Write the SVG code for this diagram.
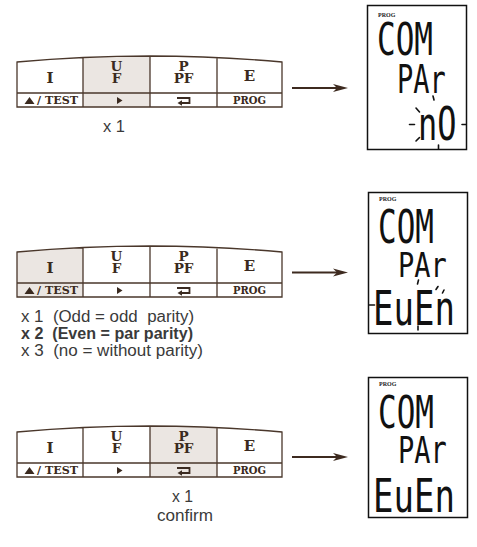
<svg xmlns="http://www.w3.org/2000/svg" width="477" height="547" viewBox="0 0 477 547">
<style>
.kl{fill:none;stroke:#4a372b;stroke-width:1.3}
.hl{fill:#ebe6e2}
.kt{font-family:"DejaVu Serif","Liberation Serif",serif;font-weight:bold;fill:#3a2a20;text-anchor:middle}
.ks{font-family:"DejaVu Serif","Liberation Serif",serif;font-weight:bold;fill:#3a2a20}
.ki{fill:#3a2a20}
.cap{font-family:"Liberation Sans",Arial,sans-serif;font-size:16px;fill:#3a3a3a}
.disp{fill:#fff;stroke:#111;stroke-width:1.5}
.seg{font-family:"DejaVu Sans Mono",monospace;fill:#111}
.prog{font-family:"Liberation Serif",serif;font-weight:bold;font-size:6px;fill:#222}
.blink{fill:none;stroke:#111;stroke-width:1.6;stroke-linecap:round}
.arr{stroke:#3d2a1f;stroke-width:2.2;marker-end:url(#ah)}
</style>
<defs>
<marker id="ah" markerUnits="userSpaceOnUse" markerWidth="16" markerHeight="10" refX="5" refY="5" orient="auto" overflow="visible"><path d="M0,1 L15,5 L0,9 L4,5 Z" fill="#3d2a1f"/></marker>
<g id="kp">
 <path class="kl" d="M17,62 Q150,50 282,62 L282,107 L17,107 Z M17,93 H282 M83,57.5 V107 M150,56 V107 M217,57.5 V107"/>
 <text class="kt" x="50" y="83" font-size="15">I</text>
 <text class="kt" x="116.5" y="71.3" font-size="13.5">U</text>
 <text class="kt" x="116.5" y="83" font-size="13.5">F</text>
 <text class="kt" x="183.5" y="70.5" font-size="13.5">P</text>
 <text class="kt" x="183.5" y="83.3" font-size="13.5">PF</text>
 <text class="kt" x="249.5" y="81.3" font-size="15">E</text>
 <polygon class="ki" points="24.5,104 29.5,97 34.5,104"/>
 <text class="ks" x="37" y="104.3" font-size="10.5" textLength="41" lengthAdjust="spacingAndGlyphs">/ TEST</text>
 <polygon class="ki" points="117,97 122.5,100.5 117,104"/>
 <path d="M177,98 H189.5 V103 H181" fill="none" stroke="#3a2a20" stroke-width="1.8"/>
 <polygon class="ki" points="177.5,103 182,100.3 182,105.7"/>
 <text class="kt" x="249.5" y="104.3" font-size="10.5" textLength="33" lengthAdjust="spacingAndGlyphs">PROG</text>
</g>
</defs>

<g id="keypad1">
 <polygon class="hl" points="83,57.5 150,56 150,107 83,107"/>
 <use href="#kp"/>
 <text class="cap" x="103" y="132" textLength="22" lengthAdjust="spacingAndGlyphs">x 1</text>
</g>

<g id="keypad2">
 <polygon class="hl" points="17,252 83,247.5 83,297 17,297"/>
 <use href="#kp" transform="translate(0,190)"/>
 <text class="cap" x="21" y="321.5" xml:space="preserve" textLength="173" lengthAdjust="spacingAndGlyphs">x 1  (Odd = odd  parity)</text>
 <text class="cap" x="21" y="338.5" font-weight="bold" xml:space="preserve" textLength="172" lengthAdjust="spacingAndGlyphs">x 2  (Even = par parity)</text>
 <text class="cap" x="21" y="356" xml:space="preserve" textLength="182" lengthAdjust="spacingAndGlyphs">x 3  (no = without parity)</text>
</g>

<g id="keypad3">
 <polygon class="hl" points="150,426 217,427.5 217,477 150,477"/>
 <use href="#kp" transform="translate(0,370)"/>
 <text class="cap" x="172" y="502" textLength="21" lengthAdjust="spacingAndGlyphs">x 1</text>
 <text class="cap" x="157" y="521" textLength="56" lengthAdjust="spacingAndGlyphs">confirm</text>
</g>

<g id="display1">
 <rect class="disp" x="367.5" y="5.5" width="99" height="144"/>
 <text class="prog" x="378" y="17">PROG</text>
 <text class="seg" font-size="31" transform="translate(377,55) scale(1,1.45)">COM</text>
 <text class="seg" font-size="27" transform="translate(397,93) scale(1,1.42)">PAr</text>
 <text class="seg" font-size="32" transform="translate(418,140) scale(1,1.42)">nO</text>
 <path class="blink" d="M433,96 L434,100 M416,108 L419.5,112 M409.5,124.5 H414.5 M416,141 L419.5,137.5 M462,124.5 H466 M438.5,145 V149"/>
</g>

<g id="display2">
 <rect class="disp" x="368.5" y="192.5" width="99" height="141"/>
 <text class="prog" x="379" y="201">PROG</text>
 <text class="seg" font-size="31" transform="translate(378,243) scale(1,1.5)">COM</text>
 <text class="seg" font-size="27" transform="translate(398,277) scale(1,1.28)">PAr</text>
 <text class="seg" font-size="34" transform="translate(373,325) scale(1,1.4)">EuEn</text>
 <path class="blink" d="M418.5,280 L417.5,284 M369.5,305 H374.5 M436,289.5 L438,286.5 M442.5,293 L444,290 M418,326 V330"/>
</g>

<g id="display3">
 <rect class="disp" x="368.5" y="377.5" width="99" height="140"/>
 <text class="prog" x="379" y="386">PROG</text>
 <text class="seg" font-size="31" transform="translate(378,428) scale(1,1.45)">COM</text>
 <text class="seg" font-size="27" transform="translate(398,463) scale(1,1.35)">PAr</text>
 <text class="seg" font-size="34" transform="translate(373,512) scale(1,1.38)">EuEn</text>
</g>

<g id="connectors">
 <line class="arr" x1="292" y1="88" x2="338" y2="88"/>
 <line class="arr" x1="292" y1="272.5" x2="338" y2="272.5"/>
 <line class="arr" x1="292" y1="457" x2="338" y2="457"/>
</g>
</svg>
